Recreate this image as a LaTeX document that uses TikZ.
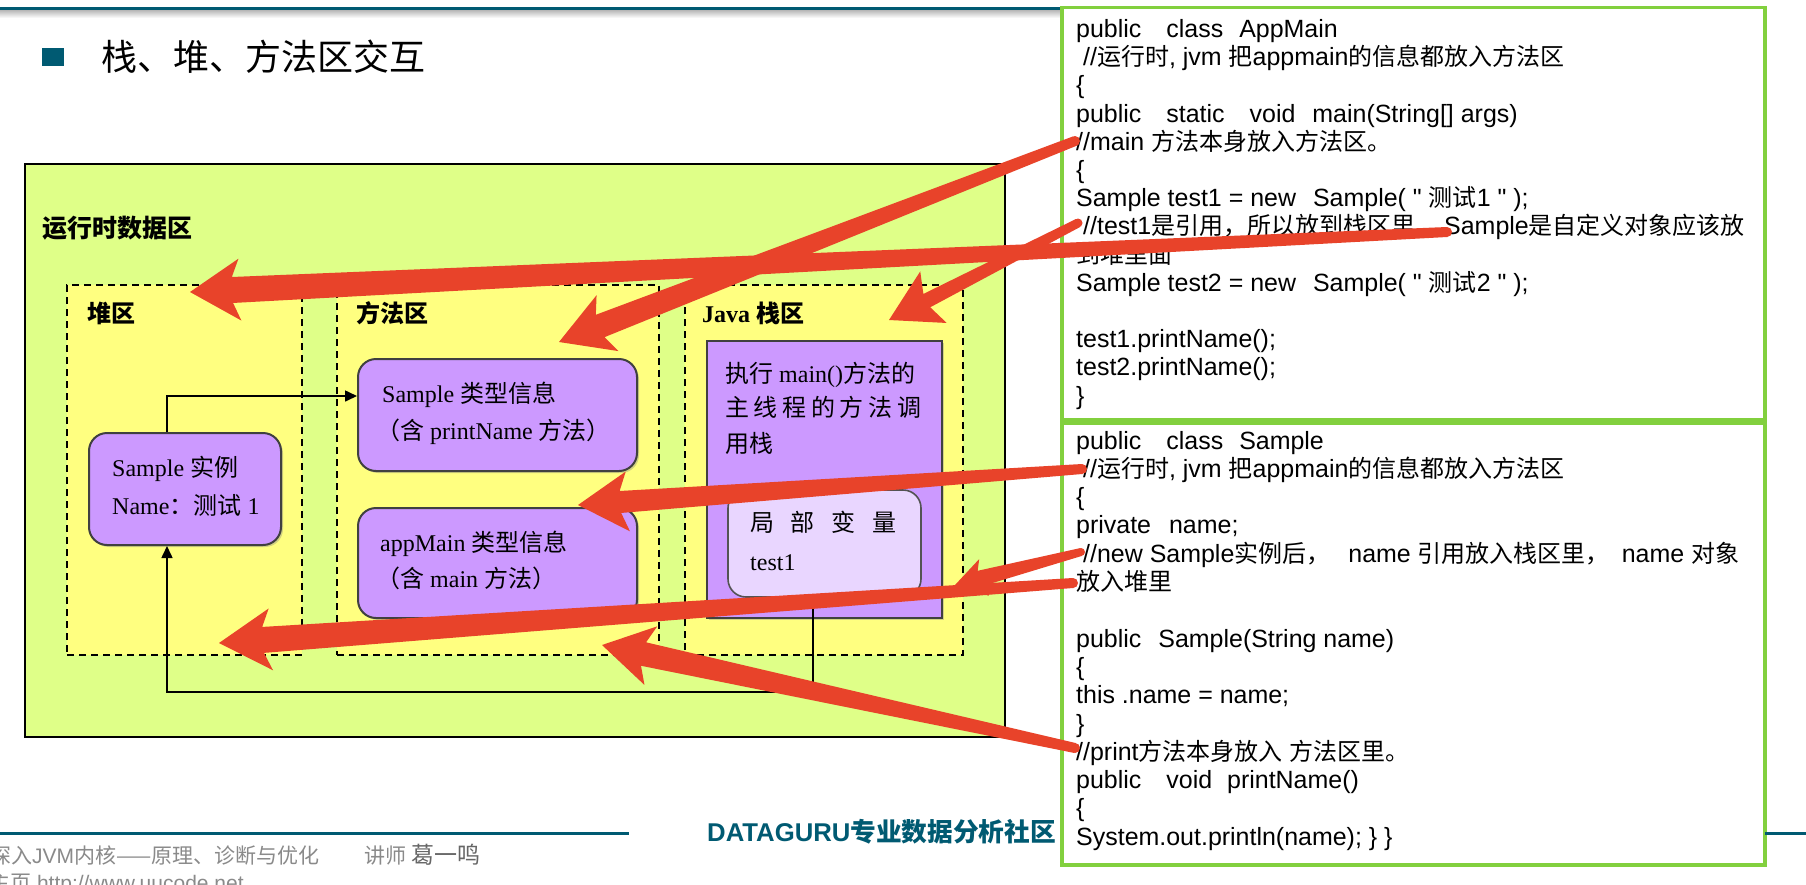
\documentclass[tikz,border=0pt]{standalone}
\usepackage{fontspec}
\setmainfont{Liberation Serif}
\newfontfamily\zhfont{Noto Sans CJK SC}
\newfontfamily\zhcfont{Noto Sans CJK SC}
\newfontfamily\codefont[Ligatures=TeXOff,Scale=1.04]{Liberation Sans}
\newfontfamily\footfont{Liberation Sans}
\newcommand{\zhd}[1]{{\zhfont #1}}
\newcommand{\zhx}[1]{{\zhcfont #1}}
\usetikzlibrary{calc,arrows.meta,shadows}
\definecolor{tealc}{HTML}{005A72}
\definecolor{redc}{HTML}{E8432A}
\definecolor{greenc}{HTML}{82D03E}
\definecolor{outerc}{HTML}{DFFF88}
\definecolor{areac}{HTML}{FFFF80}
\definecolor{purplec}{HTML}{CC99FF}
\definecolor{lpurplec}{HTML}{E9D6FF}
\definecolor{pborder}{HTML}{404040}
\definecolor{footgray}{HTML}{8A8A8A}
\definecolor{footdark}{HTML}{666666}
\newcommand{\redarrow}[6]{%
  \coordinate (rn) at ($(#2)!#5*0.85!(#1)$);
  \coordinate (rb) at ($(#2)!#5!(#1)$);
  \fill[redc] ($(#1)!#3!90:(#2)$) -- ($(rn)!#4!90:(#2)$) -- ($(rb)!#6!90:(#2)$) -- (#2)
     -- ($(rb)!#6!-90:(#2)$) -- ($(rn)!#4!-90:(#2)$) -- ($(#1)!#3!-90:(#2)$) -- cycle;
  \fill[redc] (#1) circle[radius=#3];
}
\tikzset{
  codeline/.style={anchor=base west, inner sep=0, font=\codefont\fontsize{24}{28}\selectfont},
  dtext/.style={anchor=base west, inner sep=0, font=\fontsize{24}{28}\selectfont},
  dlabel/.style={anchor=base west, inner sep=0, font=\bfseries\fontsize{24}{28}\selectfont},
  codebox/.style={draw=greenc, line width=3.5pt, fill=white, inner sep=0},
  outerbox/.style={draw=black, line width=1.5pt, fill=outerc, inner sep=0},
  areabox/.style={draw=black, line width=2.2pt, dash pattern=on 7pt off 5pt, fill=areac, inner sep=0},
  pbox/.style={draw=pborder, line width=2pt, fill=purplec, rounded corners=18pt, inner sep=0,
    drop shadow={shadow xshift=2pt, shadow yshift=-2pt, opacity=.35}},
  framebox/.style={draw=pborder, line width=2pt, fill=purplec, inner sep=0,
    drop shadow={shadow xshift=2pt, shadow yshift=-2pt, opacity=.35}},
  lvbox/.style={draw=pborder!90, line width=1.6pt, fill=lpurplec, rounded corners=18pt, inner sep=0},
  conn/.style={draw=black, line width=1.6pt, -{Triangle[length=12pt,width=11pt]}},
  tealline/.style={draw=tealc, line width=3pt},
}
\begin{document}
\begin{tikzpicture}[x=1pt,y=-1pt]
\useasboundingbox (0,0) rectangle (1806,884);
\clip (0,0) rectangle (1806,884);
\fill[white] (0,0) rectangle (1806,884);

% header
\shade[top color=black!30, bottom color=white] (0,9.5) rectangle (1062,18);
\coordinate (hl0) at (0,8); \coordinate (hl1) at (1062,8);
\draw[tealline] (hl0) -- (hl1);
\fill[tealc] (42,48) rectangle (64,66);
\node[anchor=base west, inner sep=0, font=\zhfont\fontsize{36}{40}\selectfont] (title) at (101,70) {栈、堆、方法区交互};

% runtime data area
\node[outerbox, minimum width=980pt, minimum height=573pt] (outer) at (515,450.5) {};
\node[anchor=base west, inner sep=0, font=\bfseries\zhfont\fontsize{25}{30}\selectfont] (rtlabel) at (42,237.5) {运行时数据区};

\node[areabox, minimum width=235pt, minimum height=370pt] (heap) at (184.5,470) {};
\node[areabox, minimum width=322pt, minimum height=370pt] (method) at (498,470) {};
\node[areabox, minimum width=278pt, minimum height=370pt] (stack) at (824,470) {};
\node[dlabel] (heaplbl) at (87,322) {\zhd{堆区}};
\node[dlabel] (methlbl) at (356,322) {\zhd{方法区}};
\node[dlabel] (stacklbl) at (702,322) {Java \zhd{栈区}};

\node[pbox, minimum width=279pt, minimum height=112pt] (stype) at (497.5,415) {};
\node[dtext] (stype1) at (382,402) {Sample \zhd{类型信息}};
\node[dtext] (stype2) at (376,439) {\zhd{（含} printName \zhd{方法）}};

\node[pbox, minimum width=279pt, minimum height=110pt] (atype) at (497.5,563) {};
\node[dtext] (atype1) at (380,551) {appMain \zhd{类型信息}};
\node[dtext] (atype2) at (376,587) {\zhd{（含} main \zhd{方法）}};

\node[pbox, minimum width=192pt, minimum height=112pt] (sinst) at (185,489) {};
\node[dtext] (sinst1) at (112,476) {Sample \zhd{实例}};
\node[dtext] (sinst2) at (112,514) {Name\zhd{：测试} 1};

\node[framebox, minimum width=235pt, minimum height=277pt] (frame) at (824.5,479.5) {};
\node[dtext] (frame1) at (725,382) {\zhd{执行} main()\zhd{方法的}};
\node[dtext] (frame2) at (725,416) {\zhfont\makebox[196pt][s]{主 线 程 的 方 法 调}};
\node[dtext] (frame3) at (725,452) {\zhd{用栈}};
\node[lvbox, minimum width=193pt, minimum height=107pt] (lvar) at (824.5,543.5) {};
\node[dtext] (lvar1) at (750,531) {\zhfont\makebox[146pt][s]{局 部 变 量}};
\node[dtext] (lvar2) at (750,570) {test1};

% black connectors
\draw[conn] ([xshift=-18pt]sinst.north) |- ([yshift=19pt]stype.west);
\coordinate (cbend) at (500,692);
\draw[conn] ([xshift=-11.5pt]lvar.south) |- (cbend) -| ([xshift=-18pt]sinst.south);

% code boxes
\node[codebox, minimum width=703pt, minimum height=412pt] (codeA) at (1413.5,213.5) {};
\node[codebox, minimum width=703pt, minimum height=442pt] (codeB) at (1413.5,644) {};

\node[codeline] (ca0) at (1076,37.5) {public\hspace{25pt}class\hspace{16pt}AppMain};
\node[codeline] (ca1) at (1076,65.7) {\hspace*{7pt}//\zhx{运行时}, jvm \zhx{把}appmain\zhx{的信息都放入方法区}};
\node[codeline] (ca2) at (1076,93.9) {\{};
\node[codeline] (ca3) at (1076,122.1) {public\hspace{25pt}static\hspace{25pt}void\hspace{17pt}main(String[] args)};
\node[codeline] (ca4) at (1076,150.3) {//main \zhx{方法本身放入方法区。}};
\node[codeline] (ca5) at (1076,178.5) {\{};
\node[codeline] (ca6) at (1076,206.7) {Sample test1 = new\hspace{17pt}Sample( " \zhx{测试}1 " );};
\node[codeline] (ca7) at (1076,234.9) {\hspace*{7pt}//test1\zhx{是引用，所以放到栈区里，}\hspace{5pt}Sample\zhx{是自定义对象应该放}};
\node[codeline] (ca8) at (1076,263.1) {\zhx{到堆里面}};
\node[codeline] (ca9) at (1076,291.3) {Sample test2 = new\hspace{17pt}Sample( " \zhx{测试}2 " );};
\node[codeline] (ca11) at (1076,347.7) {test1.printName();};
\node[codeline] (ca12) at (1076,375.9) {test2.printName();};
\node[codeline] (ca13) at (1076,404.1) {\}};

\node[codeline] (cb0) at (1076,449) {public\hspace{25pt}class\hspace{16pt}Sample};
\node[codeline] (cb1) at (1076,477.3) {\hspace*{7pt}//\zhx{运行时}, jvm \zhx{把}appmain\zhx{的信息都放入方法区}};
\node[codeline] (cb2) at (1076,505.6) {\{};
\node[codeline] (cb3) at (1076,533.9) {private\hspace{18pt}name;};
\node[codeline] (cb4) at (1076,562.2) {\hspace*{7pt}//new Sample\zhx{实例后，}\hspace{18pt}name \zhx{引用放入栈区里，}\hspace{12pt}name \zhx{对象}};
\node[codeline] (cb5) at (1076,590.5) {\zhx{放入堆里}};
\node[codeline] (cb7) at (1076,647.1) {public\hspace{17pt}Sample(String name)};
\node[codeline] (cb8) at (1076,675.4) {\{};
\node[codeline] (cb9) at (1076,703.7) {this .name = name;};
\node[codeline] (cb10) at (1076,732) {\}};
\node[codeline] (cb11) at (1076,760.3) {//print\zhx{方法本身放入} \zhx{方法区里。}};
\node[codeline] (cb12) at (1076,788.6) {public\hspace{25pt}void\hspace{15pt}printName()};
\node[codeline] (cb13) at (1076,816.9) {\{};
\node[codeline] (cb14) at (1076,845.2) {System.out.println(name); \} \}};

% footer
\coordinate (fl0) at (0,833); \coordinate (fl1) at (629,833);
\coordinate (fl2) at (1765,833); \coordinate (fl3) at (1806,833);
\draw[tealline] (fl0) -- (fl1);
\draw[tealline] (fl2) -- (fl3);
\node[anchor=base west, inner sep=0, text=footgray, font=\footfont\fontsize{21}{24}\selectfont] (foot1) at (-10,863) {\zhd{深入}JVM\zhd{内核——原理、诊断与优化}};
\node[anchor=base west, inner sep=0, text=footgray, font=\footfont\fontsize{21}{24}\selectfont] (foot2) at (364,863) {\zhd{讲师}};
\node[anchor=base west, inner sep=0, text=footdark, font=\zhfont\fontsize{23}{26}\selectfont] (foot3) at (411,863) {葛一鸣};
\node[anchor=base west, inner sep=0, text=footgray, font=\footfont\fontsize{21}{24}\selectfont] (foot4) at (-11,890) {\zhd{主页} http://www.uucode.net};
\node[anchor=base west, inner sep=0, text=tealc, font=\bfseries\footfont\fontsize{25.7}{30}\selectfont] (dg) at (707,841) {DATAGURU\zhd{专业数据分析社区}};

% red arrows
\coordinate (a1t) at (1075,141); \coordinate (a1h) at (559,342);
\coordinate (a2t) at (1078,223); \coordinate (a2h) at (889,320);
\coordinate (a3t) at (1447,232); \coordinate (a3h) at (190,292);
\coordinate (a4t) at (1082,469); \coordinate (a4h) at (578,505);
\coordinate (a5t) at (1081,552); \coordinate (a5h) at (955,585);
\coordinate (a6t) at (1073,583); \coordinate (a6h) at (219,643);
\coordinate (a7t) at (1075,748); \coordinate (a7h) at (602,645);
\redarrow{a1t}{a1h}{5pt}{12pt}{52pt}{30pt}
\redarrow{a2t}{a2h}{4.5pt}{7.5pt}{50pt}{29pt}
\redarrow{a3t}{a3h}{5pt}{13pt}{50pt}{31pt}
\redarrow{a4t}{a4h}{5pt}{11pt}{50pt}{30pt}
\redarrow{a5t}{a5h}{4pt}{8pt}{30pt}{19pt}
\redarrow{a6t}{a6h}{5pt}{13pt}{52pt}{31pt}
\redarrow{a7t}{a7h}{5pt}{12pt}{50pt}{30pt}
\end{tikzpicture}
\end{document}
